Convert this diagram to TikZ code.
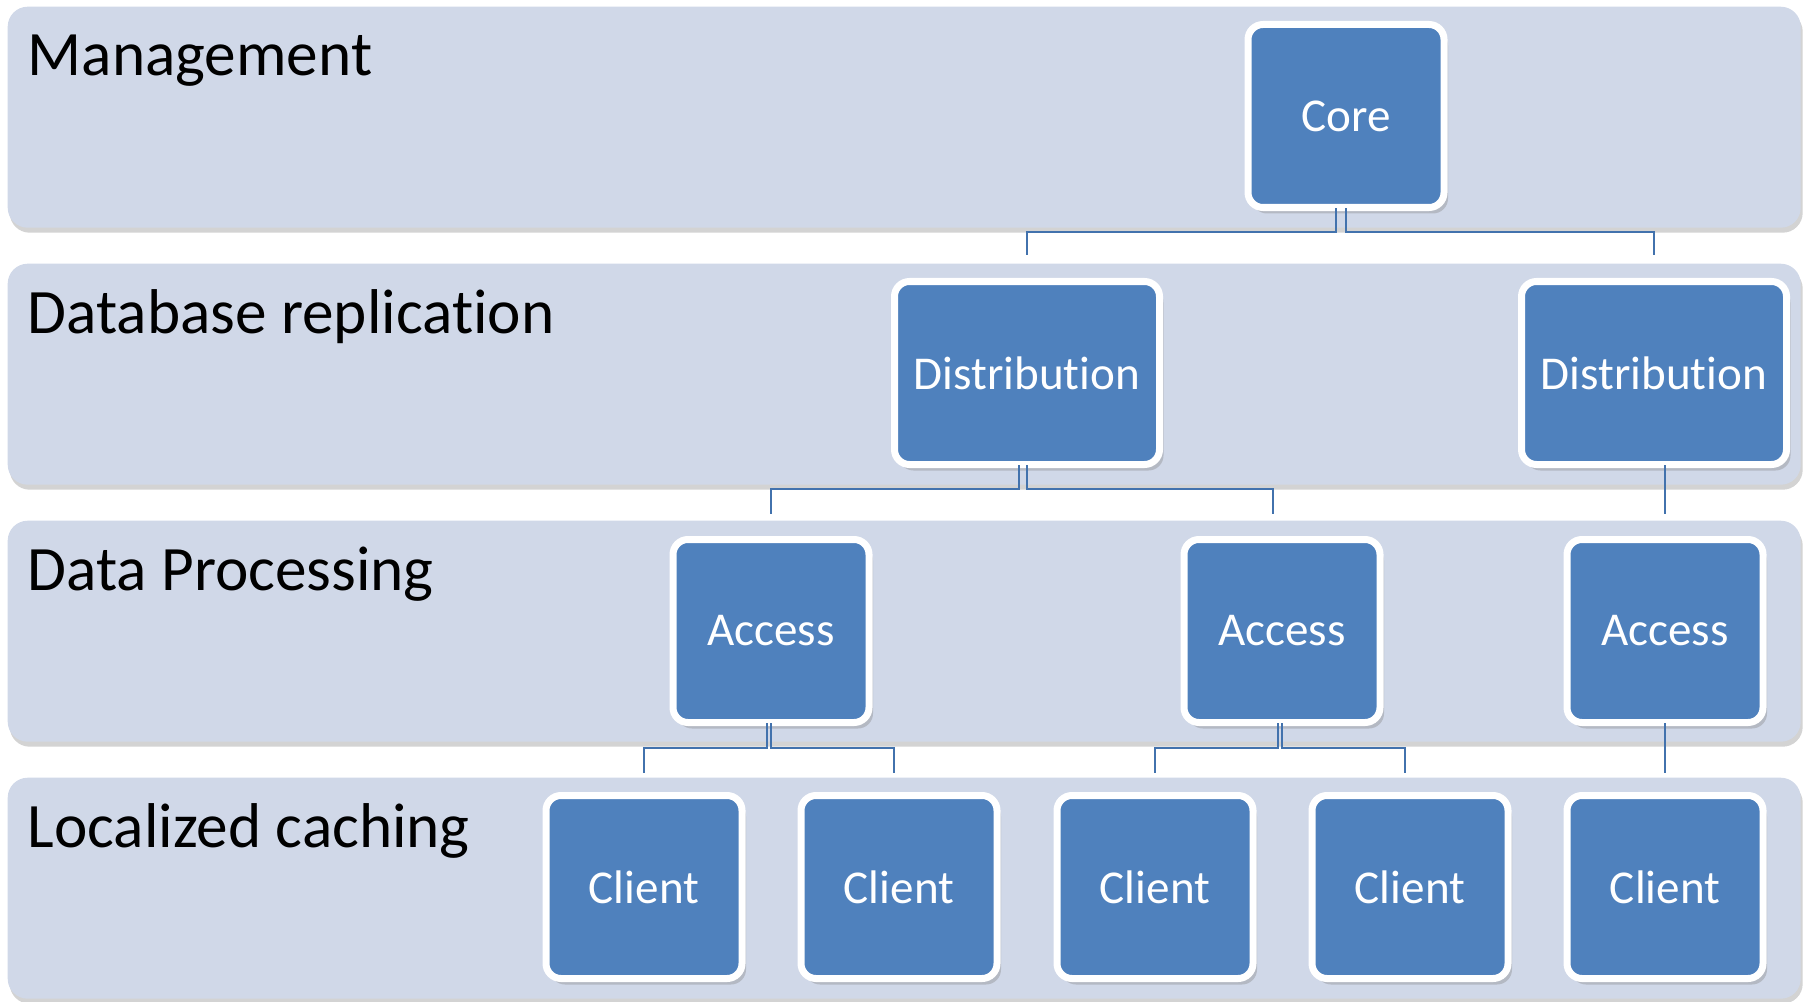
\documentclass[tikz,border=0pt]{standalone}
\usepackage{fontspec}
\setmainfont{Carlito}[Ligatures=NoCommon]
\usetikzlibrary{shadows,calc}

\definecolor{bandfill}{HTML}{D0D8E8}
\definecolor{unitfill}{HTML}{4F81BD}
\definecolor{linkblue}{HTML}{4272AD}

\tikzset{
  band/.style={fill=bandfill, rounded corners=0.2cm, anchor=north west, inner sep=0pt,
    minimum width=17.93cm, minimum height=2.21cm,
    drop shadow={shadow xshift=0.2mm, shadow yshift=-0.5mm, opacity=0.35}},
  layer/.style={anchor=base west, inner sep=0pt, font=\fontsize{18}{20}\selectfont},
  unit/.style={fill=unitfill, draw=white, line width=0.07cm, rounded corners=0.15cm,
    text=white, minimum width=1.96cm, minimum height=1.83cm,
    font=\fontsize{13.4}{15}\selectfont,
    drop shadow={shadow xshift=0.4mm, shadow yshift=-0.6mm, opacity=0.35}},
  link/.style={draw=linkblue, line width=0.022cm}
}

\begin{document}
\begin{tikzpicture}
        \useasboundingbox (0,0) rectangle (18.07,-10.02);

        % Layers
        \node[band] (mgmtband)  at (0.07,-0.06) {};
        \node[band] (replband)  at (0.07,-2.63) {};
        \node[band] (procband)  at (0.07,-5.20) {};
        \node[band] (cacheband) at (0.07,-7.77) {};

        % Layer names
        \node[layer] (mgmtlbl)  at ([xshift=2mm,yshift=-7mm]mgmtband.north west)  {Management};
        \node[layer] (repllbl)  at ([xshift=2mm,yshift=-7mm]replband.north west)  {Database replication};
        \node[layer] (proclbl)  at ([xshift=2mm,yshift=-7mm]procband.north west)  {Data Processing};
        \node[layer] (cachelbl) at ([xshift=2mm,yshift=-7mm]cacheband.north west) {Localized caching};

        % Servers
        \node[unit] (core) at (13.46,-1.16) {Core};
        \node[unit, minimum width=2.65cm] (dist1) at (10.27,-3.73) {Distribution};
        \node[unit, minimum width=2.65cm] (dist2) at (16.54,-3.73) {Distribution};
        \node[unit] (acc1) at (7.71,-6.31) {Access};
        \node[unit] (acc2) at (12.82,-6.31) {Access};
        \node[unit] (acc3) at (16.65,-6.31) {Access};

        % Clients
        \foreach \x [count=\i] in {6.44,8.99,11.55,14.10,16.65} {
            \node[unit] (cl\i) at (\x,-8.87) {Client};
        }

        % Core -> distribution
        \draw[link] ([xshift=-1mm,yshift=0.3mm]core.south) -- ++(0,-0.24) -| ([yshift=2.3mm]dist1.north);
        \draw[link] ([yshift=0.3mm]core.south) -- ++(0,-0.24) -| ([yshift=2.3mm]dist2.north);

        % Distribution -> access
        \draw[link] ([xshift=-0.8mm,yshift=0.3mm]dist1.south) -- ++(0,-0.24) -| ([yshift=2.2mm]acc1.north);
        \draw[link] ([yshift=0.3mm]dist1.south) -- ++(0,-0.24) -| ([xshift=-0.9mm,yshift=2.2mm]acc2.north);
        \draw[link] ($(acc3.north |- dist2.south)+(0,0.03)$) -- ([yshift=2.2mm]acc3.north);

        % Access -> clients
        \draw[link] ([xshift=-0.4mm,yshift=0.3mm]acc1.south) -- ++(0,-0.25) -| ([yshift=1.9mm]cl1.north);
        \draw[link] ([yshift=0.3mm]acc1.south) -- ++(0,-0.25) -| ([xshift=-0.5mm,yshift=1.9mm]cl2.north);
        \draw[link] ([xshift=-0.4mm,yshift=0.3mm]acc2.south) -- ++(0,-0.25) -| ([yshift=1.9mm]cl3.north);
        \draw[link] ([yshift=0.3mm]acc2.south) -- ++(0,-0.25) -| ([xshift=-0.5mm,yshift=1.9mm]cl4.north);
        \draw[link] ([yshift=0.3mm]acc3.south) -- ([yshift=1.9mm]cl5.north);
    \end{tikzpicture}
\end{document}
